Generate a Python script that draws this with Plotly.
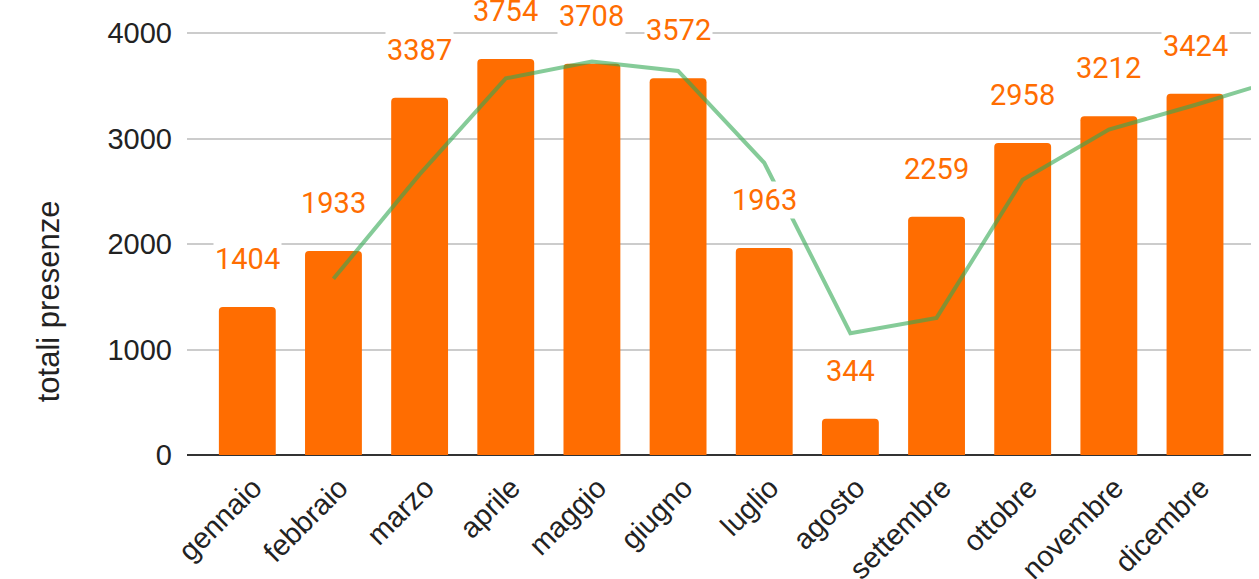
import plotly.graph_objects as go

months = ["gennaio", "febbraio", "marzo", "aprile", "maggio", "giugno",
          "luglio", "agosto", "settembre", "ottobre", "novembre", "dicembre"]
presenze = [1404, 1933, 3387, 3754, 3708, 3572, 1963, 344, 2259, 2958, 3212, 3424]
# trend line, starting at febbraio; last point lies beyond the cropped right edge
trend_x = [1, 2, 3, 4, 5, 6, 7, 8, 9, 10, 11, 12]
trend = [1670, 2660, 3570, 3730, 3640, 2770, 1155, 1300, 2610, 3085, 3318, 3565]
y_ticks = [0, 1000, 2000, 3000, 4000]
y_title = "totali presenze"

ORANGE = "#FF6D01"
AXIS_FONT = "Liberation Sans, Arial, sans-serif"
LABEL_FONT = "Roboto, sans-serif"

x_idx = list(range(len(months)))

fig = go.Figure()
fig.add_trace(go.Bar(
    x=x_idx, y=presenze, marker=dict(color=ORANGE, line=dict(width=0)),
    width=0.66, hoverinfo="skip",
))
fig.add_trace(go.Scatter(
    x=trend_x, y=trend, mode="lines",
    line=dict(color="rgba(52,168,83,0.6)", width=4),
    hoverinfo="skip",
))

for xi, v in zip(x_idx, presenze):
    fig.add_annotation(
        x=xi, y=v, xref="x", yref="y", text=str(v), showarrow=False,
        yanchor="middle", yshift=48, bgcolor="white", borderpad=1,
        font=dict(family=LABEL_FONT, size=29, color=ORANGE),
    )

# y-axis title (placed as in the reference, lower than the plot centre)
fig.add_annotation(
    x=-0.1306, y=0.338, xref="paper", yref="paper", text=y_title,
    showarrow=False, textangle=-90, xanchor="center", yanchor="middle",
    font=dict(family=AXIS_FONT, size=31, color="#222222"),
)

fig.update_layout(
    width=1259, height=579,
    margin=dict(l=187, r=8, t=0, b=124),
    paper_bgcolor="white", plot_bgcolor="white",
    showlegend=False,
    barcornerradius=4,
    xaxis=dict(
        range=[-0.70, 11.65], automargin=False,
        tickmode="array", tickvals=x_idx, ticktext=months,
        tickangle=-45, showgrid=False, zeroline=False, showline=False,
        ticks="", ticklabelstandoff=9, ticklabelshift=6,
        tickfont=dict(family=AXIS_FONT, size=29, color="#222222"),
    ),
    yaxis=dict(
        range=[0, 4313], automargin=False,
        tickmode="array", tickvals=y_ticks,
        showgrid=True, gridcolor="#cccccc", gridwidth=1.5,
        zeroline=True, zerolinecolor="#333333", zerolinewidth=1.5,
        ticks="", ticklabelstandoff=14,
        tickfont=dict(family=AXIS_FONT, size=29, color="#222222"),
    ),
)

fig.write_html("out.html", config={"displayModeBar": False},
               post_script="document.body.style.margin='0';document.body.style.overflow='hidden';")
